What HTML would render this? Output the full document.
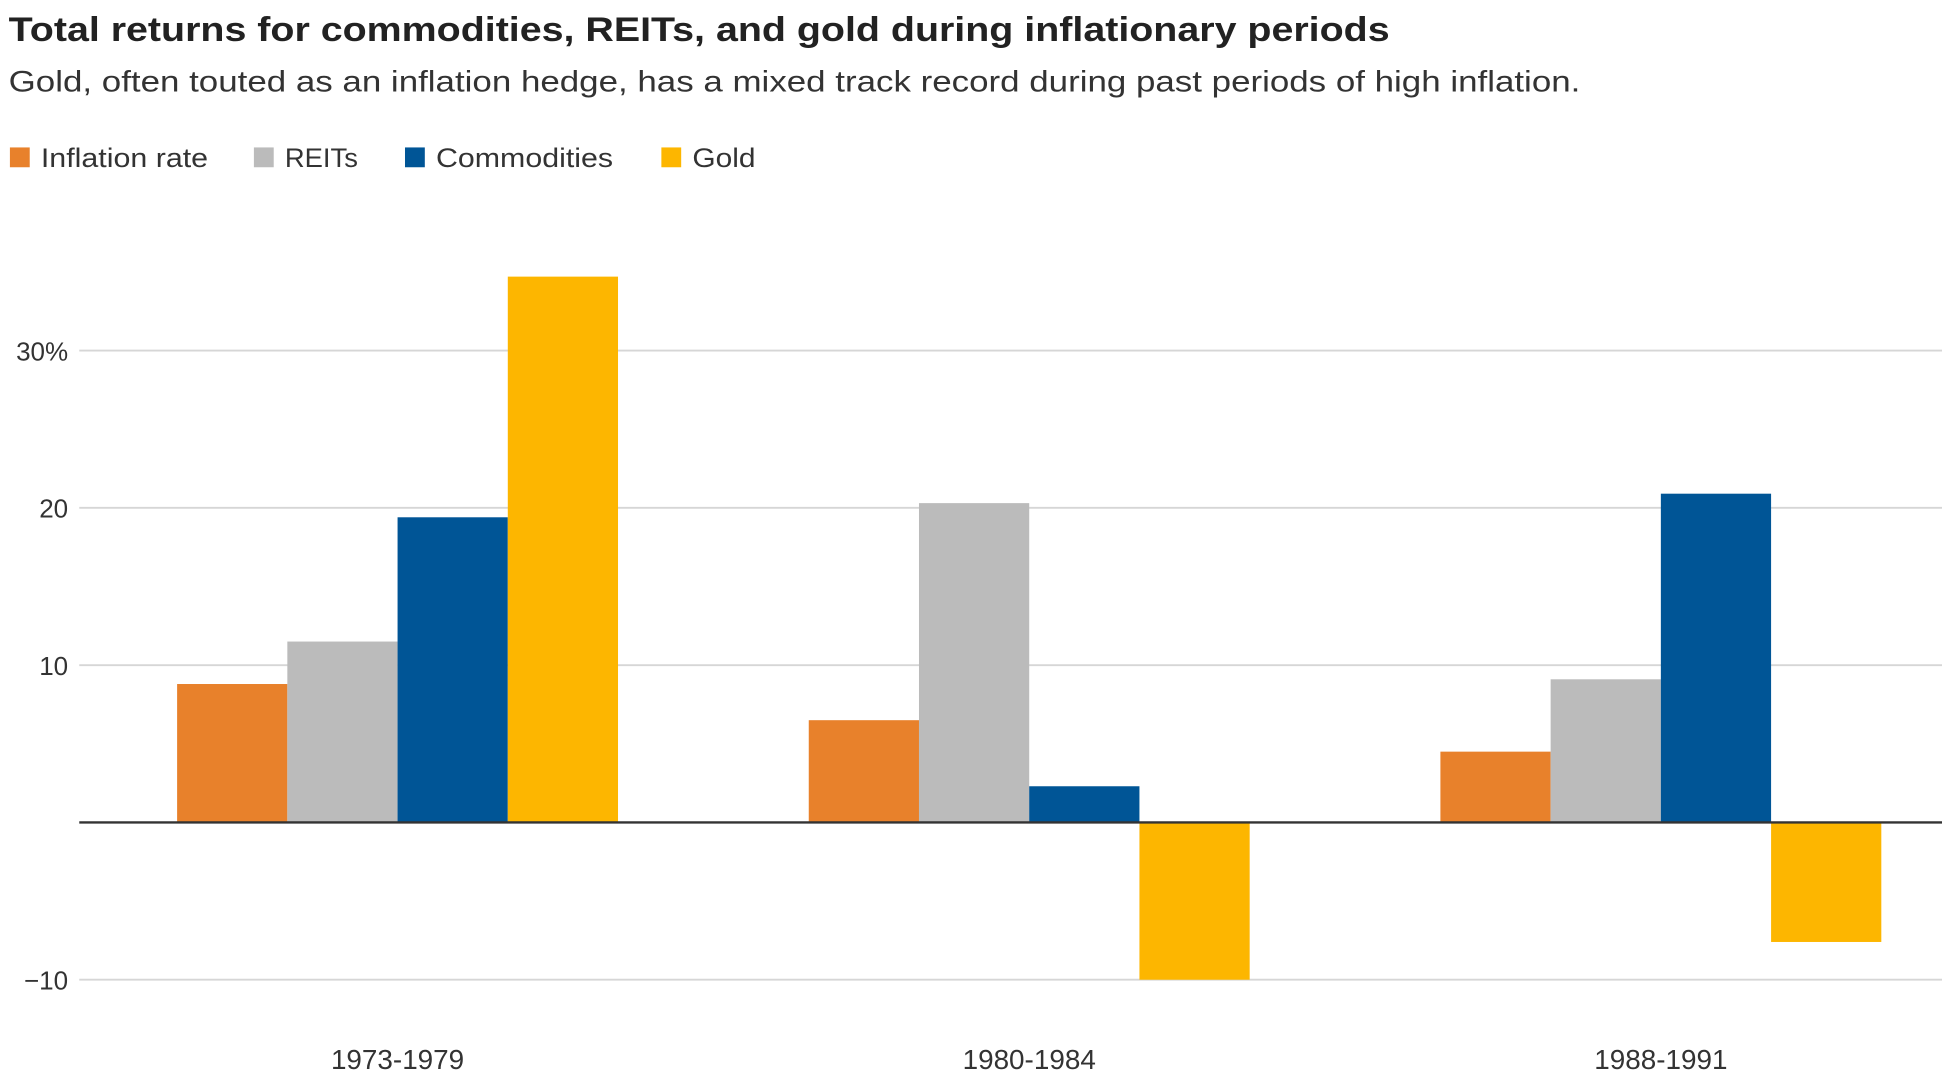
<!DOCTYPE html>
<html><head><meta charset="utf-8"><style>
html,body{margin:0;padding:0;background:#fff;}
svg{display:block;font-family:"Liberation Sans",sans-serif;}
</style></head><body>
<svg id="chart" width="1942" height="1090" viewBox="0 0 1568 880" xmlns="http://www.w3.org/2000/svg">
<text x="7" y="33" font-size="28" font-weight="bold" fill="#222" textLength="1115" lengthAdjust="spacingAndGlyphs">Total returns for commodities, REITs, and gold during inflationary periods</text>
<text x="7" y="74" font-size="24" fill="#333" textLength="1269" lengthAdjust="spacingAndGlyphs">Gold, often touted as an inflation hedge, has a mixed track record during past periods of high inflation.</text>
<g id="legend"></g>
<g id="grid"></g>
<g id="bars"></g>
<g id="xlabels"></g>
</svg>
<script>
const categories = ["1973-1979","1980-1984","1988-1991"];
const seriesNames = ["Inflation rate","REITs","Commodities","Gold"];
const inflation = [8.8, 6.5, 4.5];
const reits = [11.5, 20.3, 9.1];
const commodities = [19.4, 2.3, 20.9];
const gold = [34.7, -10.0, -7.6];
const yTicks = [-10, 10, 20, 30];
const yTickLabels = ["\u221210","10","20","30%"];

const colors = ["#E8812B","#BBBBBB","#005596","#FDB600"];
const series = [inflation, reits, commodities, gold];
const NS = "http://www.w3.org/2000/svg";
const y = v => 664 - v * 12.7;
const groupX = i => 143 + i * 510;
const barW = 89;
function mk(tag, attrs, parent){const e=document.createElementNS(NS,tag);for(const k in attrs)e.setAttribute(k,attrs[k]);parent.appendChild(e);return e;}

const legend = document.getElementById('legend');
const legX = [8, 205, 327, 534];
const legW = [135, 59, 143, 51];
seriesNames.forEach((n,i)=>{
  const r = mk('rect',{x:legX[i],y:119,width:16,height:16,fill:colors[i]},legend);
  
  
  const t = mk('text',{x:legX[i]+25,y:135,'font-size':22,fill:'#333',textLength:legW[i],lengthAdjust:'spacingAndGlyphs'},legend);
  t.textContent = n;
  
  
});

const grid = document.getElementById('grid');
yTicks.forEach((v,i)=>{
  const l = mk('line',{x1:64,x2:1568,y1:y(v),y2:y(v),stroke:'#d6d6d6','stroke-width':1.5},grid);
  
  
  const t = mk('text',{x:55,y:y(v)+8,'font-size':21,fill:'#333','text-anchor':'end'},grid);
  t.textContent = yTickLabels[i];
  
  
});

const bars = document.getElementById('bars');
categories.forEach((c,gi)=>{
  series.forEach((s,si)=>{
    const v = s[gi];
    const top = Math.min(y(v), y(0));
    const r = mk('rect',{x:groupX(gi)+si*barW,y:top,width:barW,height:Math.abs(y(v)-y(0)),fill:colors[si]},bars);
    
    
  });
});
const zl = mk('line',{x1:64,x2:1568,y1:y(0),y2:y(0),stroke:'#333','stroke-width':2},bars);



const xl = document.getElementById('xlabels');
categories.forEach((c,i)=>{
  const t = mk('text',{x:groupX(i)+barW*2,y:863,'font-size':22.5,fill:'#333','text-anchor':'middle'},xl);
  t.textContent = c;
  
  
});
</script>
</body></html>
